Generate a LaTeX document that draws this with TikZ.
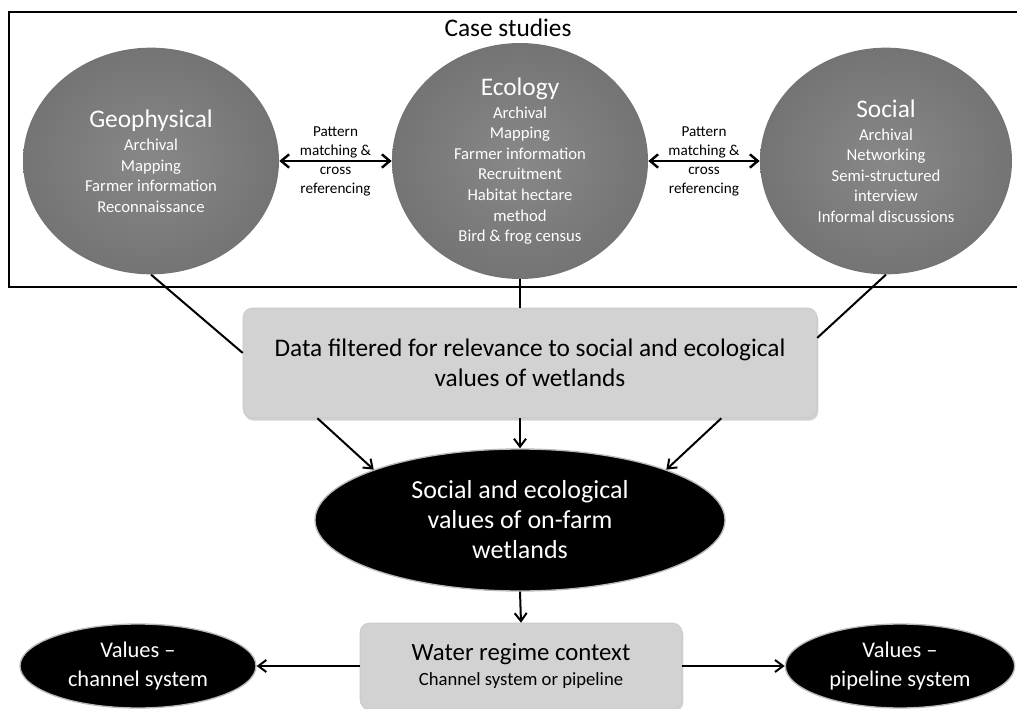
\documentclass[tikz,border=0pt]{standalone}
\usepackage{fontspec}
\setmainfont{Carlito}
\usetikzlibrary{shapes.geometric,arrows.meta,calc,shadows}

\definecolor{studyfill}{RGB}{136,136,136}
\definecolor{studyedge}{RGB}{116,116,116}
\definecolor{boxfill}{RGB}{210,210,210}

\tikzset{
  study/.style={ellipse, shading=radial, inner color=studyfill, outer color=studyedge,
    minimum width=192pt, minimum height=170pt, inner sep=0pt, align=center,
    text=white, font=\fontsize{12.5}{15.4}\selectfont},
  graybox/.style={rectangle, rounded corners=7pt, fill=boxfill, draw=gray!45,
    drop shadow={shadow xshift=1pt, shadow yshift=-2pt, opacity=0.35},
    align=center, inner sep=0pt},
  blackval/.style={ellipse, fill=black, draw=gray!55, line width=1pt,
    text=white, align=center, inner sep=0pt},
  link/.style={line width=1.5pt},
  arr/.style={line width=1.5pt, -{Straight Barb[length=6pt,width=9pt]}},
  twoway/.style={line width=1.8pt, {Straight Barb[length=6pt,width=10pt]}-{Straight Barb[length=6pt,width=10pt]}},
  pmlabel/.style={align=center, inner sep=0pt, font=\fontsize{11.4}{14.25}\selectfont}
}

\begin{document}
\begin{tikzpicture}[x=0.75pt,y=-0.75pt]
    \useasboundingbox (0,0) rectangle (1017,709);

    % Case studies frame
    \draw[line width=1.5pt] (1017,12) -- (9,12) -- (9,287) -- (1017,287);
    \node[font=\fontsize{19}{22}\selectfont] (cs) at (508,28) {Case studies};

    % Case study ellipses
    \node[study] (geo) at (151,161) {{\fontsize{19}{22}\selectfont Geophysical}\\[2pt]
    Archival\\
    Mapping\\
    Farmer information\\
    Reconnaissance};

    \node[study] (eco) at (520,161) {{\fontsize{19}{22}\selectfont Ecology}\\[2pt]
    Archival\\
    Mapping\\
    Farmer information\\
    Recruitment\\
    Habitat hectare\\
    method\\
    Bird \& frog census};

    \node[study, minimum width=189pt] (soc) at (886,161) {{\fontsize{19}{22}\selectfont Social}\\[2pt]
    Archival\\
    Networking\\
    Semi-structured\\
    interview\\
    Informal discussions};

    % Filtered data
    \node[graybox, minimum width=430.5pt, minimum height=82.5pt,
      font=\fontsize{19}{22.5}\selectfont] (data) at (530,363)
    {Data filtered for relevance to social and ecological\\
    values of wetlands};

    % Values
    \node[blackval, minimum width=307.5pt, minimum height=106.5pt,
      font=\fontsize{19.5}{22.5}\selectfont] (val) at (520,520)
    {Social and ecological\\
    values of on-farm\\
    wetlands};

    % Water regime
    \node[graybox, minimum width=241.5pt, minimum height=64.5pt,
      font=\fontsize{18.6}{20}\selectfont] (water) at (521,666)
    {\raisebox{-3pt}{Water regime context}\\[2pt]
    {\fontsize{14}{16}\selectfont Channel system or pipeline}};

    \node[blackval, minimum width=177pt, minimum height=63pt,
      font=\fontsize{16.8}{21.75}\selectfont] (chan) at (138,666)
    {Values --\\ channel system};
    \node[blackval, minimum width=172pt, minimum height=63pt,
      font=\fontsize{16.8}{21.75}\selectfont] (pipe) at (900,666)
    {Values --\\ pipeline system};

    % Pattern matching
    \draw[twoway] (geo) -- node[pmlabel] (pm1) {Pattern\\matching \&\\cross\\referencing} (eco);
    \draw[twoway] (eco) -- node[pmlabel] (pm2) {Pattern\\matching \&\\cross\\referencing} (soc);

    % Case studies to data
    \draw[link] (geo.south) -- (data.178);
    \draw[link] (eco.south) -- (eco.south |- data.north);
    \draw[link] (soc.south) -- (data.5.5);

    % Data to values
    \draw[arr] ($(data.south west)!0.13!(data.south east)$) -- (val.161);
    \draw[arr] (val.north |- data.south) -- (val.north);
    \draw[arr] ($(data.south west)!0.833!(data.south east)$) -- (val.19);

    % Values to water regime
    \draw[arr] (val.south) -- (water.north);
    \draw[arr] (water.west) -- (chan.east);
    \draw[arr] (water.east) -- (pipe.west);
\end{tikzpicture}
\end{document}
